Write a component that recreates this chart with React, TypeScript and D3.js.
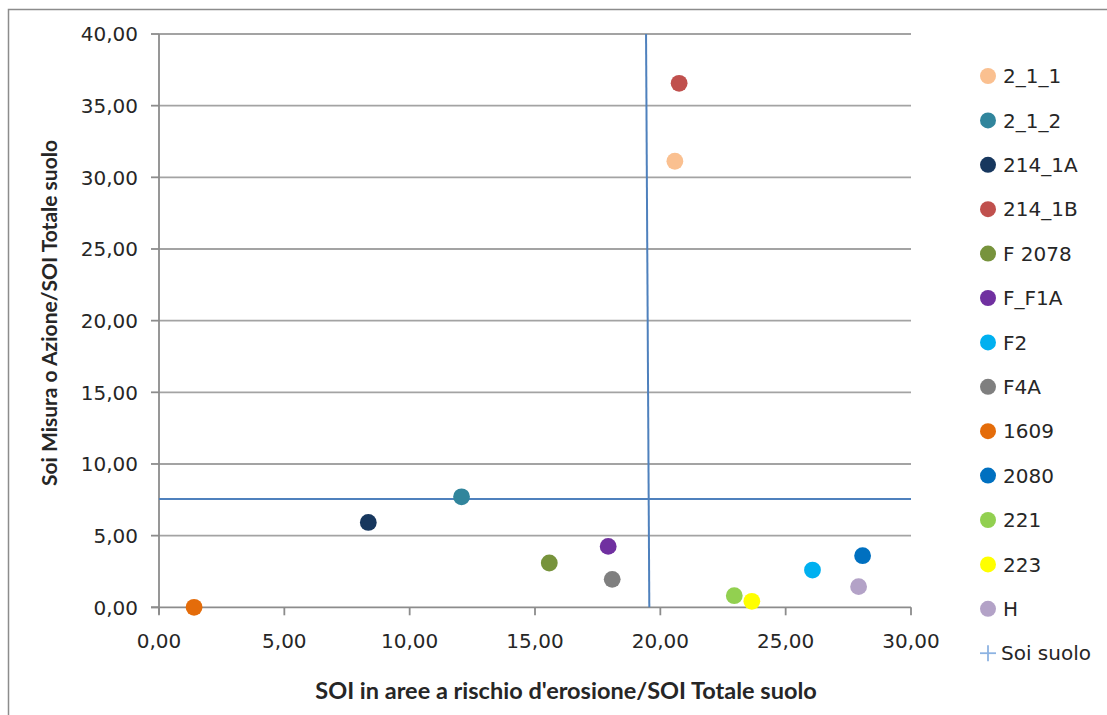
import React from "react";
import * as d3 from "d3";

// Series shown in the scatter plot (one point each)
const seriesNames = ["2_1_1", "2_1_2", "214_1A", "214_1B", "F 2078", "F_F1A", "F2", "F4A", "1609", "2080", "221", "223", "H"];
const erosionShare = [20.58, 12.07, 8.35, 20.75, 15.57, 17.92, 26.07, 18.08, 1.4, 28.07, 22.95, 23.65, 27.91];
const actionShare = [31.12, 7.71, 5.92, 36.56, 3.09, 4.25, 2.6, 1.95, 0.0, 3.6, 0.81, 0.42, 1.44];

// Reference cross "Soi suolo": a vertical and a horizontal segment
const soiSuoloName = "Soi suolo";
const soiVertical: [number, number][] = [[19.43, 40], [19.56, 0]];
const soiHorizontal: [number, number][] = [[0, 7.55], [30, 7.55]];

const xTicks = [0, 5, 10, 15, 20, 25, 30];
const yTicks = [0, 5, 10, 15, 20, 25, 30, 35, 40];

const xTitle = "SOI in aree a rischio d'erosione/SOI Totale suolo";
const yTitle = "Soi Misura o Azione/SOI Totale suolo";

const palette = ["#FAC090", "#31859C", "#17375E", "#C0504D", "#77933C", "#7030A0", "#00B0F0", "#7F7F7F", "#E46C0A", "#0070C0", "#92D050", "#FFFF00", "#B3A2C7"];

const W = 1107;
const H = 715;
const plot = { left: 159, right: 911, top: 34, bottom: 607.3 };

const fmt = (v: number) => v.toFixed(2).replace(".", ",");

export default function App() {
  const x = d3.scaleLinear().domain([0, 30]).range([plot.left, plot.right]);
  const y = d3.scaleLinear().domain([0, 40]).range([plot.bottom, plot.top]);
  const line = d3.line<[number, number]>().x((d) => x(d[0])).y((d) => y(d[1]));

  const gridColor = "#a3a3a3";
  const axisColor = "#8c8c8c";
  const textColor = "#262626";
  const tickFont = "'DejaVu Sans', Verdana, sans-serif";
  const titleFont = "Lato, 'Open Sans', sans-serif";

  return (
    <svg
      width={W}
      height={H}
      style={{ position: "absolute", left: 0, top: 0, background: "#ffffff" }}
    >
      <rect x={0} y={0} width={W} height={H} fill="#ffffff" />
      {/* chart frame */}
      <rect x={8.5} y={9.5} width={W + 20} height={H + 20} fill="none" stroke={axisColor} strokeWidth={1.5} />

      {/* horizontal gridlines */}
      {yTicks.filter((t) => t > 0).map((t) => (
        <line key={"g" + t} x1={plot.left} x2={plot.right} y1={y(t)} y2={y(t)} stroke={gridColor} strokeWidth={1.8} />
      ))}

      {/* axes */}
      <line x1={plot.left} x2={plot.left} y1={plot.top} y2={plot.bottom + 7} stroke={axisColor} strokeWidth={1.8} />
      <line x1={plot.left - 8} x2={plot.right} y1={plot.bottom} y2={plot.bottom} stroke={axisColor} strokeWidth={1.8} />
      {yTicks.map((t) => (
        <line key={"yt" + t} x1={plot.left - 8} x2={plot.left} y1={y(t)} y2={y(t)} stroke={axisColor} strokeWidth={1.8} />
      ))}
      {xTicks.map((t) => (
        <line key={"xt" + t} x1={x(t)} x2={x(t)} y1={plot.bottom} y2={plot.bottom + 8} stroke={axisColor} strokeWidth={1.8} />
      ))}

      {/* tick labels */}
      {yTicks.map((t) => (
        <text key={"yl" + t} x={138} y={y(t)} dy="0.36em" textAnchor="end" fontFamily={tickFont} fontSize={20} fill={textColor}>
          {fmt(t)}
        </text>
      ))}
      {xTicks.map((t) => (
        <text key={"xl" + t} x={x(t)} y={641} dy="0.36em" textAnchor="middle" fontFamily={tickFont} fontSize={20} fill={textColor}>
          {fmt(t)}
        </text>
      ))}

      {/* axis titles */}
      <text x={566} y={699} textAnchor="middle" fontFamily={titleFont} fontWeight={700} fontSize={23.5} fill={textColor}>
        {xTitle}
      </text>
      <text
        transform={`translate(57,313) rotate(-90)`}
        textAnchor="middle"
        fontFamily={titleFont}
        fontWeight={700}
        fontSize={21}
        fill={textColor}
      >
        {yTitle}
      </text>

      {/* Soi suolo cross */}
      <path d={line(soiVertical) || ""} fill="none" stroke="#4F81BD" strokeWidth={2} />
      <path d={line(soiHorizontal) || ""} fill="none" stroke="#4F81BD" strokeWidth={2} />

      {/* points */}
      {seriesNames.map((name, i) => (
        <circle key={name} cx={x(erosionShare[i])} cy={y(actionShare[i])} r={8.4} fill={palette[i]} />
      ))}

      {/* legend */}
      {seriesNames.map((name, i) => {
        const ly = 76 + 44.4 * i;
        return (
          <g key={"lg" + name}>
            <circle cx={988} cy={ly} r={8} fill={palette[i]} />
            <text x={1003} y={ly} dy="0.36em" fontFamily={tickFont} fontSize={20} fill={textColor}>
              {name}
            </text>
          </g>
        );
      })}
      {(() => {
        const ly = 76 + 44.4 * seriesNames.length;
        return (
          <g>
            <line x1={980} x2={996} y1={ly} y2={ly} stroke="#8DB3E2" strokeWidth={1.8} />
            <line x1={988} x2={988} y1={ly - 8} y2={ly + 8} stroke="#8DB3E2" strokeWidth={1.8} />
            <text x={1001} y={ly} dy="0.36em" fontFamily={tickFont} fontSize={20} fill={textColor}>
              {soiSuoloName}
            </text>
          </g>
        );
      })()}
    </svg>
  );
}
